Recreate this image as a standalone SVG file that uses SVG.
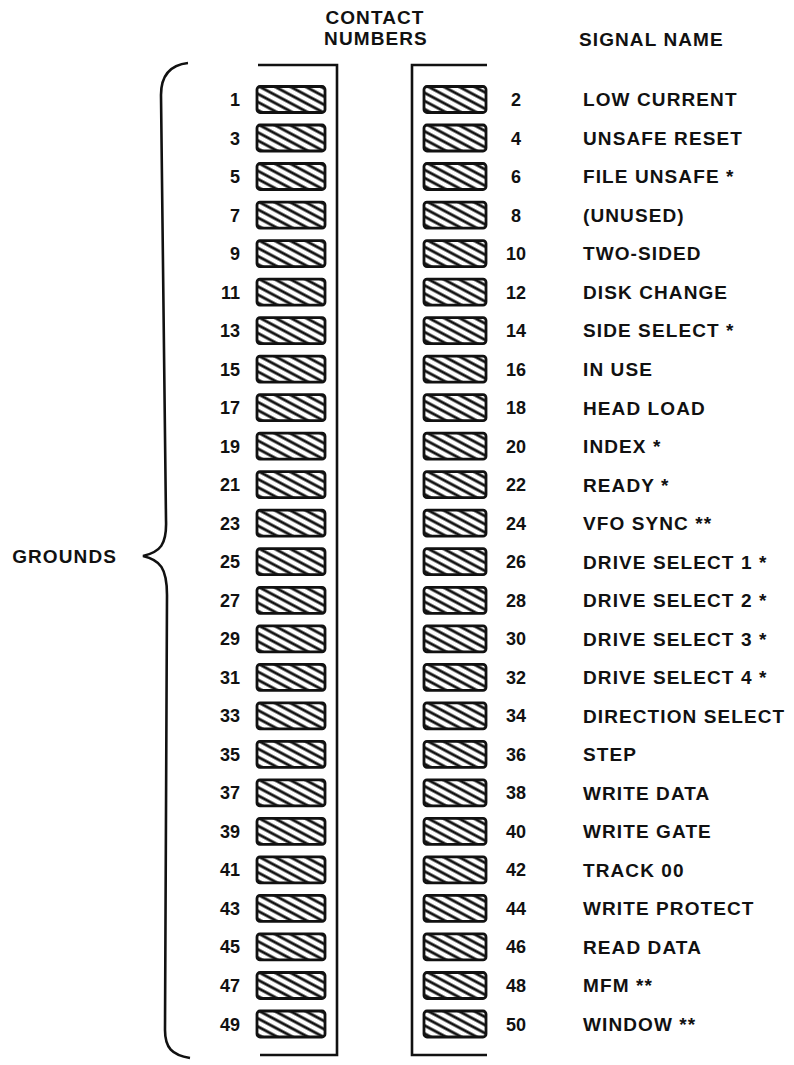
<svg xmlns="http://www.w3.org/2000/svg" width="794" height="1065" viewBox="0 0 794 1065">
<defs>
<pattern id="hatch" patternUnits="userSpaceOnUse" width="7.2" height="7.2" patternTransform="rotate(28)">
<rect width="7.2" height="7.2" fill="#fff"/>
<line x1="0" y1="3.6" x2="7.2" y2="3.6" stroke="#111" stroke-width="2.8"/>
</pattern>
<style>
.t{font-family:"Liberation Sans",Arial,sans-serif;font-weight:bold;font-size:19px;letter-spacing:1.1px;fill:#111}
.n{font-family:"Liberation Sans",Arial,sans-serif;font-weight:bold;font-size:18px;fill:#111}
.l{text-anchor:end}
.m{text-anchor:middle}
.padL{fill:url(#hatch);stroke:#111;stroke-width:2.8}
.line{fill:none;stroke:#111;stroke-width:2.6}
</style>
<rect id="pL" x="257" y="-13" width="68" height="26" rx="3" class="padL"/>
<rect id="pR" x="424" y="-13" width="62" height="26" rx="3" class="padL"/>
</defs>
<rect width="794" height="1065" fill="#fff"/>
<g id="headers">
<text class="t m" x="375" y="24">CONTACT</text>
<text class="t m" x="376" y="45">NUMBERS</text>
<text class="t" x="579" y="46">SIGNAL NAME</text>
<text class="t l" x="117" y="563">GROUNDS</text>
</g>
<g id="connectors">
<path class="line" d="M258 65 H337 V1055 H260"/>
<path class="line" d="M487 65 H412 V1055 H487"/>
<path class="line" d="M188 63 C170 65 161 75 161 95 L166 520 C167 545 160 552 143 556 C160 560 167 568 167 595 L165 1030 C165 1048 172 1055 190 1058"/>
</g>
<g id="contacts-left">
<g id="c1" transform="translate(0,99.5)"><use href="#pL"/><text class="n l" x="240" y="6.5">1</text></g>
<g id="c3" transform="translate(0,138)"><use href="#pL"/><text class="n l" x="240" y="6.5">3</text></g>
<g id="c5" transform="translate(0,176.5)"><use href="#pL"/><text class="n l" x="240" y="6.5">5</text></g>
<g id="c7" transform="translate(0,215.1)"><use href="#pL"/><text class="n l" x="240" y="6.5">7</text></g>
<g id="c9" transform="translate(0,253.6)"><use href="#pL"/><text class="n l" x="240" y="6.5">9</text></g>
<g id="c11" transform="translate(0,292.1)"><use href="#pL"/><text class="n l" x="240" y="6.5">11</text></g>
<g id="c13" transform="translate(0,330.6)"><use href="#pL"/><text class="n l" x="240" y="6.5">13</text></g>
<g id="c15" transform="translate(0,369.1)"><use href="#pL"/><text class="n l" x="240" y="6.5">15</text></g>
<g id="c17" transform="translate(0,407.7)"><use href="#pL"/><text class="n l" x="240" y="6.5">17</text></g>
<g id="c19" transform="translate(0,446.2)"><use href="#pL"/><text class="n l" x="240" y="6.5">19</text></g>
<g id="c21" transform="translate(0,484.7)"><use href="#pL"/><text class="n l" x="240" y="6.5">21</text></g>
<g id="c23" transform="translate(0,523.2)"><use href="#pL"/><text class="n l" x="240" y="6.5">23</text></g>
<g id="c25" transform="translate(0,561.7)"><use href="#pL"/><text class="n l" x="240" y="6.5">25</text></g>
<g id="c27" transform="translate(0,600.3)"><use href="#pL"/><text class="n l" x="240" y="6.5">27</text></g>
<g id="c29" transform="translate(0,638.8)"><use href="#pL"/><text class="n l" x="240" y="6.5">29</text></g>
<g id="c31" transform="translate(0,677.3)"><use href="#pL"/><text class="n l" x="240" y="6.5">31</text></g>
<g id="c33" transform="translate(0,715.8)"><use href="#pL"/><text class="n l" x="240" y="6.5">33</text></g>
<g id="c35" transform="translate(0,754.3)"><use href="#pL"/><text class="n l" x="240" y="6.5">35</text></g>
<g id="c37" transform="translate(0,792.9)"><use href="#pL"/><text class="n l" x="240" y="6.5">37</text></g>
<g id="c39" transform="translate(0,831.4)"><use href="#pL"/><text class="n l" x="240" y="6.5">39</text></g>
<g id="c41" transform="translate(0,869.9)"><use href="#pL"/><text class="n l" x="240" y="6.5">41</text></g>
<g id="c43" transform="translate(0,908.4)"><use href="#pL"/><text class="n l" x="240" y="6.5">43</text></g>
<g id="c45" transform="translate(0,946.9)"><use href="#pL"/><text class="n l" x="240" y="6.5">45</text></g>
<g id="c47" transform="translate(0,985.5)"><use href="#pL"/><text class="n l" x="240" y="6.5">47</text></g>
<g id="c49" transform="translate(0,1024)"><use href="#pL"/><text class="n l" x="240" y="6.5">49</text></g>
</g>
<g id="contacts-right">
<g id="c2" transform="translate(0,99.5)"><use href="#pR"/><text class="n m" x="516" y="6.5">2</text><text class="t" x="583" y="6.8">LOW CURRENT</text></g>
<g id="c4" transform="translate(0,138)"><use href="#pR"/><text class="n m" x="516" y="6.5">4</text><text class="t" x="583" y="6.8">UNSAFE RESET</text></g>
<g id="c6" transform="translate(0,176.5)"><use href="#pR"/><text class="n m" x="516" y="6.5">6</text><text class="t" x="583" y="6.8">FILE UNSAFE *</text></g>
<g id="c8" transform="translate(0,215.1)"><use href="#pR"/><text class="n m" x="516" y="6.5">8</text><text class="t" x="583" y="6.8">(UNUSED)</text></g>
<g id="c10" transform="translate(0,253.6)"><use href="#pR"/><text class="n m" x="516" y="6.5">10</text><text class="t" x="583" y="6.8">TWO-SIDED</text></g>
<g id="c12" transform="translate(0,292.1)"><use href="#pR"/><text class="n m" x="516" y="6.5">12</text><text class="t" x="583" y="6.8">DISK CHANGE</text></g>
<g id="c14" transform="translate(0,330.6)"><use href="#pR"/><text class="n m" x="516" y="6.5">14</text><text class="t" x="583" y="6.8">SIDE SELECT *</text></g>
<g id="c16" transform="translate(0,369.1)"><use href="#pR"/><text class="n m" x="516" y="6.5">16</text><text class="t" x="583" y="6.8">IN USE</text></g>
<g id="c18" transform="translate(0,407.7)"><use href="#pR"/><text class="n m" x="516" y="6.5">18</text><text class="t" x="583" y="6.8">HEAD LOAD</text></g>
<g id="c20" transform="translate(0,446.2)"><use href="#pR"/><text class="n m" x="516" y="6.5">20</text><text class="t" x="583" y="6.8">INDEX *</text></g>
<g id="c22" transform="translate(0,484.7)"><use href="#pR"/><text class="n m" x="516" y="6.5">22</text><text class="t" x="583" y="6.8">READY *</text></g>
<g id="c24" transform="translate(0,523.2)"><use href="#pR"/><text class="n m" x="516" y="6.5">24</text><text class="t" x="583" y="6.8">VFO SYNC **</text></g>
<g id="c26" transform="translate(0,561.7)"><use href="#pR"/><text class="n m" x="516" y="6.5">26</text><text class="t" x="583" y="6.8">DRIVE SELECT 1 *</text></g>
<g id="c28" transform="translate(0,600.3)"><use href="#pR"/><text class="n m" x="516" y="6.5">28</text><text class="t" x="583" y="6.8">DRIVE SELECT 2 *</text></g>
<g id="c30" transform="translate(0,638.8)"><use href="#pR"/><text class="n m" x="516" y="6.5">30</text><text class="t" x="583" y="6.8">DRIVE SELECT 3 *</text></g>
<g id="c32" transform="translate(0,677.3)"><use href="#pR"/><text class="n m" x="516" y="6.5">32</text><text class="t" x="583" y="6.8">DRIVE SELECT 4 *</text></g>
<g id="c34" transform="translate(0,715.8)"><use href="#pR"/><text class="n m" x="516" y="6.5">34</text><text class="t" x="583" y="6.8">DIRECTION SELECT</text></g>
<g id="c36" transform="translate(0,754.3)"><use href="#pR"/><text class="n m" x="516" y="6.5">36</text><text class="t" x="583" y="6.8">STEP</text></g>
<g id="c38" transform="translate(0,792.9)"><use href="#pR"/><text class="n m" x="516" y="6.5">38</text><text class="t" x="583" y="6.8">WRITE DATA</text></g>
<g id="c40" transform="translate(0,831.4)"><use href="#pR"/><text class="n m" x="516" y="6.5">40</text><text class="t" x="583" y="6.8">WRITE GATE</text></g>
<g id="c42" transform="translate(0,869.9)"><use href="#pR"/><text class="n m" x="516" y="6.5">42</text><text class="t" x="583" y="6.8">TRACK 00</text></g>
<g id="c44" transform="translate(0,908.4)"><use href="#pR"/><text class="n m" x="516" y="6.5">44</text><text class="t" x="583" y="6.8">WRITE PROTECT</text></g>
<g id="c46" transform="translate(0,946.9)"><use href="#pR"/><text class="n m" x="516" y="6.5">46</text><text class="t" x="583" y="6.8">READ DATA</text></g>
<g id="c48" transform="translate(0,985.5)"><use href="#pR"/><text class="n m" x="516" y="6.5">48</text><text class="t" x="583" y="6.8">MFM **</text></g>
<g id="c50" transform="translate(0,1024)"><use href="#pR"/><text class="n m" x="516" y="6.5">50</text><text class="t" x="583" y="6.8">WINDOW **</text></g>
</g>
</svg>
